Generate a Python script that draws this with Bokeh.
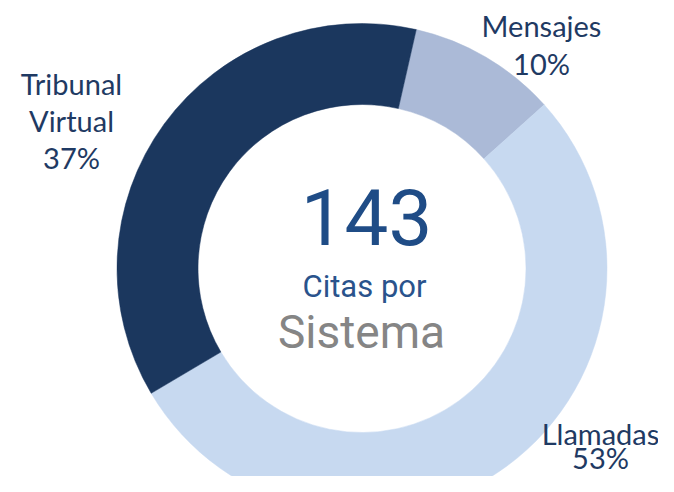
import math
from bokeh.plotting import figure
from bokeh.models import ColumnDataSource, Range1d
from bokeh.core.properties import value
from bokeh.embed import file_html
from bokeh.resources import INLINE

# ---- data ----
categories = ["Mensajes", "Llamadas", "Tribunal Virtual"]
counts = [14, 76, 53]
colors = ["#abbad7", "#c7d9f0", "#1b375e"]
center_caption = ["Citas por", "Sistema"]
first_slice_deg = 12.8

# ---- layout (pixel positions from top-left of the picture) ----
W, H = 658, 476
TOP = 492
cx, cy = 361.5, TOP - 268
r_out, r_in = 245, 164
LABEL_PX = 29
# label anchor: (x center, first baseline from top, line spacing)
label_anchor = {"Mensajes": (541, 35, 38), "Llamadas": (600, 443, 24),
                "Tribunal Virtual": (71, 93, 37)}
BASE_SHIFT = 0.34  # bokeh's alphabetic baseline sits ~0.34em below y


def ypos(b, size):
    return TOP - b + BASE_SHIFT * size


total = sum(counts)
pcts = [round(c / total * 100) for c in counts]

starts, ends = [], []
acc = first_slice_deg
for c in counts:
    span = c / total * 360.0
    starts.append(math.radians(90 - acc))
    ends.append(math.radians(90 - acc - span))
    acc += span

p = figure(width=W, height=H, output_backend="svg", toolbar_location=None,
           x_range=Range1d(0, W), y_range=Range1d(TOP - H, TOP), min_border=0)
p.axis.visible = False
p.grid.visible = False
p.outline_line_color = None
p.background_fill_color = "white"
p.border_fill_color = "white"

src = ColumnDataSource(dict(x=[cx] * len(counts), y=[cy] * len(counts),
                            s=starts, e=ends, c=colors))
p.annular_wedge(x="x", y="y", inner_radius=r_in, outer_radius=r_out,
                start_angle="s", end_angle="e", direction="clock",
                fill_color="c", line_color="c", line_width=0.5, source=src)

# slice labels
lx, ly, lt = [], [], []
for cat, pc in zip(categories, pcts):
    ax, b0, lh = label_anchor[cat]
    lines = cat.split(" ") + [f"{pc}%"]
    for i, t in enumerate(lines):
        lx.append(ax)
        ly.append(ypos(b0 + i * lh, LABEL_PX))
        lt.append(t)
p.text(x=lx, y=ly, text=lt, text_font=value("Lato"), text_font_size=f"{LABEL_PX}px",
       text_color="#1f3a63", text_align="center", text_baseline="alphabetic")

# center texts
p.text(x=[366], y=[ypos(243, 78)], text=[str(total)], text_font=value("Roboto"),
       text_font_size="78px", text_color="#1f4c86", text_align="center",
       text_baseline="alphabetic")
p.text(x=[364], y=[ypos(297, 31)], text=[center_caption[0]], text_font=value("Roboto"),
       text_font_size="31px", text_color="#2a538c", text_align="center",
       text_baseline="alphabetic")
p.text(x=[361], y=[ypos(347, 46)], text=[center_caption[1]], text_font=value("Roboto"),
       text_font_size="46px", text_color="#858585", text_align="center",
       text_baseline="alphabetic")

open("out.html", "w").write(file_html(p, INLINE))
